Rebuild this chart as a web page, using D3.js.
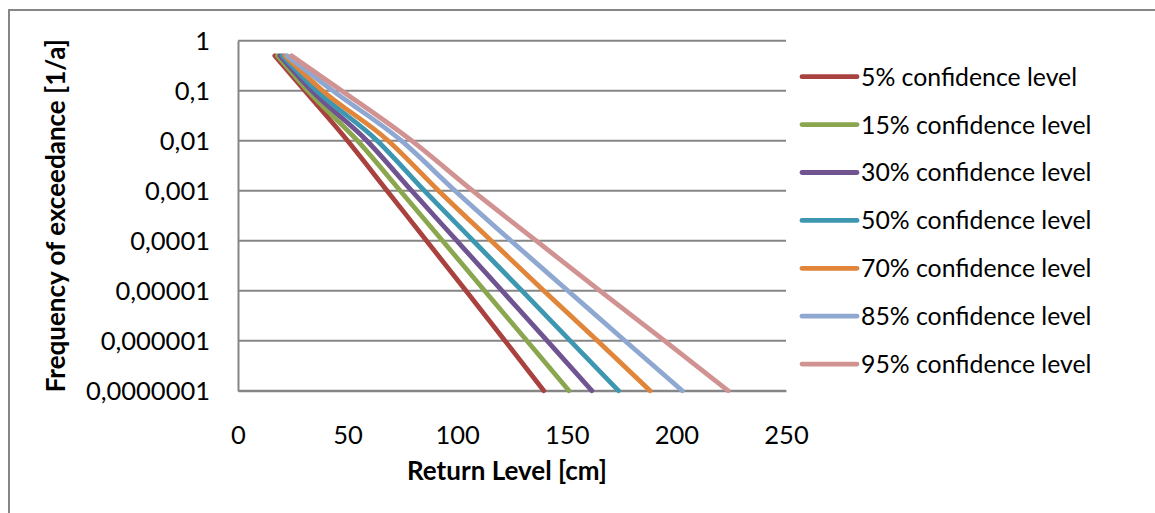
<!DOCTYPE html>
<html>
<head>
<meta charset="utf-8">
<script src="https://cdn.jsdelivr.net/npm/d3@7"></script>
<style>
    body { margin: 0; padding: 0; background: #fff; }
    svg { display: block; }
    text { font-family: Lato, "Open Sans", sans-serif; fill: #000; }
</style>
</head>
<body>
<div id="chart"></div>
<script>
    "use strict";

    /* exceedance frequencies [1/a] at which each curve was read */
    var freqs = [0.5, 0.1, 0.01, 0.001, 0.0001, 0.00001, 0.000001, 0.0000001];

    /* return levels [cm], one array per confidence level */
    var level5  = [16.8, 30.5, 50.0, 68.0, 86.0, 104.0, 121.8, 139.5];
    var level15 = [18.0, 31.8, 54.5, 74.0, 93.3, 112.5, 131.8, 151.0];
    var level30 = [19.1, 33.6, 58.8, 79.2, 99.8, 120.4, 141.0, 161.4];
    var level50 = [20.3, 35.9, 63.5, 85.0, 107.3, 129.5, 151.5, 173.6];
    var level70 = [21.4, 38.6, 68.5, 91.5, 115.5, 139.5, 164.0, 188.0];
    var level85 = [22.4, 43.2, 74.5, 99.0, 124.5, 150.5, 176.5, 202.7];
    var level95 = [24.4, 47.3, 79.2, 107.0, 136.0, 165.0, 194.5, 223.6];

    var seriesNames = ["5% confidence level", "15% confidence level", "30% confidence level",
                       "50% confidence level", "70% confidence level", "85% confidence level",
                       "95% confidence level"];
    var seriesValues = [level5, level15, level30, level50, level70, level85, level95];
    var seriesColors = ["#A9423F", "#8AA64F", "#6F5491", "#3E97B0", "#E08539", "#8EA8D1", "#D19392"];

    var xTicks = [0, 50, 100, 150, 200, 250];
    var yTicks = [1, 0.1, 0.01, 0.001, 0.0001, 0.00001, 0.000001, 0.0000001];
    var yTickLabels = ["1", "0,1", "0,01", "0,001", "0,0001", "0,00001", "0,000001", "0,0000001"];

    var W = 1155, H = 513;
    var plot = { left: 238, right: 786, top: 40.7, bottom: 390.7 };
    var gridColor = "#868686";
    var tickFont = 25.5, legendFont = 24.8, titleFont = 26;

    var svg = d3.select("#chart").append("svg")
                .attr("width", W).attr("height", H);

    /* chart area border (only top and left edges fall inside the picture) */
    svg.append("rect")
        .attr("x", 9).attr("y", 10)
        .attr("width", W + 20).attr("height", H + 20)
        .attr("fill", "#fff")
        .attr("stroke", gridColor).attr("stroke-width", 2);

    var x = d3.scaleLinear().domain([0, 250]).range([plot.left, plot.right]);
    var y = d3.scaleLog().domain([1e-7, 1]).range([plot.bottom, plot.top]);

    /* horizontal gridlines, one per decade */
    svg.append("g").selectAll("line")
        .data(yTicks).enter().append("line")
        .attr("x1", plot.left).attr("x2", plot.right)
        .attr("y1", function (d) { return y(d); })
        .attr("y2", function (d) { return y(d); })
        .attr("stroke", gridColor).attr("stroke-width", 2);

    /* y axis */
    var yAxis = d3.axisLeft(y)
                  .tickValues(yTicks)
                  .tickSize(0).tickPadding(28)
                  .tickFormat(function (d, i) { return yTickLabels[i]; });
    var gy = svg.append("g").attr("transform", "translate(" + plot.left + ",0)").call(yAxis);
    gy.select(".domain").attr("stroke", gridColor).attr("stroke-width", 2);
    gy.selectAll("text")
        .style("font-family", "Lato, 'Open Sans', sans-serif")
        .style("font-size", tickFont + "px")
        .attr("dy", "0.36em");

    /* x axis */
    var xAxis = d3.axisBottom(x)
                  .tickValues(xTicks)
                  .tickSize(0).tickPadding(35);
    var gx = svg.append("g").attr("transform", "translate(0," + plot.bottom + ")").call(xAxis);
    gx.select(".domain").attr("stroke", gridColor).attr("stroke-width", 2);
    gx.selectAll("text")
        .style("font-family", "Lato, 'Open Sans', sans-serif")
        .style("font-size", tickFont + "px");

    /* series lines, smoothed between the read points */
    var line = d3.line()
                 .curve(d3.curveMonotoneX)
                 .x(function (d) { return x(d[0]); })
                 .y(function (d) { return y(d[1]); });

    svg.append("g").selectAll("path")
        .data(seriesValues).enter().append("path")
        .attr("d", function (vals) {
            return line(vals.map(function (v, i) { return [v, freqs[i]]; }));
        })
        .attr("fill", "none")
        .attr("stroke", function (d, i) { return seriesColors[i]; })
        .attr("stroke-width", 4.8)
        .attr("stroke-linecap", "round")
        .attr("stroke-linejoin", "round");

    /* legend */
    var legend = svg.append("g").attr("transform", "translate(802,76.7)");
    var items = legend.selectAll("g")
                    .data(seriesNames).enter().append("g")
                    .attr("transform", function (d, i) { return "translate(0," + (i * 47.9) + ")"; });
    items.append("line")
        .attr("x1", 0).attr("x2", 55)
        .attr("stroke", function (d, i) { return seriesColors[i]; })
        .attr("stroke-width", 4.8)
        .attr("stroke-linecap", "round");
    items.append("text")
        .attr("x", 59).attr("dy", "0.36em")
        .style("font-size", legendFont + "px")
        .text(function (d) { return d; });

    /* axis titles */
    svg.append("text")
        .attr("x", 507).attr("y", 480)
        .attr("text-anchor", "middle")
        .style("font-size", titleFont + "px").style("font-weight", "bold")
        .text("Return Level [cm]");

    svg.append("text")
        .attr("transform", "translate(56," + ((plot.top + plot.bottom) / 2) + ") rotate(-90)")
        .attr("text-anchor", "middle").attr("dy", "0.36em")
        .style("font-size", titleFont + "px").style("font-weight", "bold")
        .text("Frequency of exceedance [1/a]");
</script>
</body>
</html>
